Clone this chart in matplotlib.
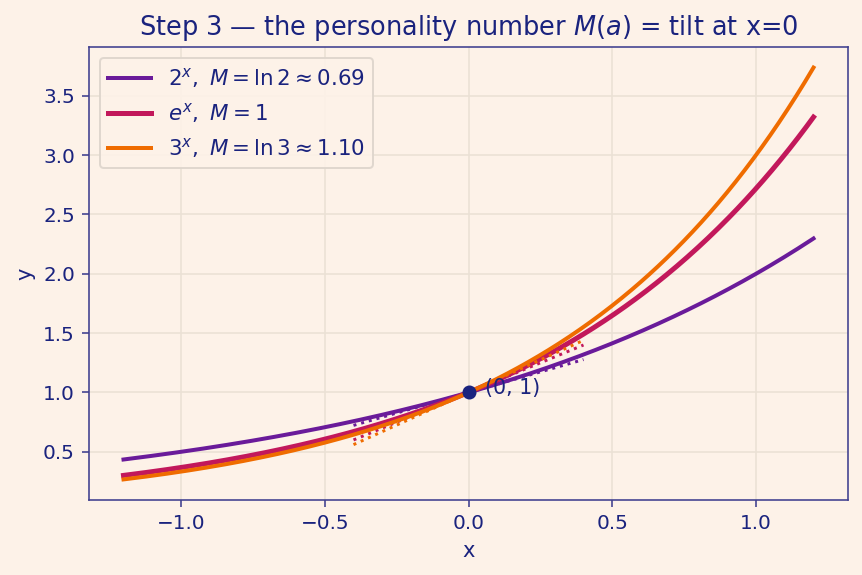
import numpy as np
import matplotlib
matplotlib.use("Agg")
import matplotlib.pyplot as plt

# bases and their tilt at x=0 (M = ln a)
bases = [2.0, np.e, 3.0]
labels = [r"$2^x,\ M=\ln 2\approx 0.69$",
          r"$e^x,\ M=1$",
          r"$3^x,\ M=\ln 3\approx 1.10$"]
colors = ["#6a1b9a", "#c2185b", "#ef6c00"]
widths = [2.0, 2.5, 2.0]

x_range = (-1.2, 1.2)
tangent_range = (-0.4, 0.4)
point = (0, 1)

ink = "#1a237e"
bg = "#fdf2e8"

plt.rcParams["font.family"] = "DejaVu Sans"
plt.rcParams["mathtext.fontset"] = "dejavusans"

fig = plt.figure(figsize=(862/144, 575/144), dpi=144, facecolor=bg)
ax = fig.add_axes([89/862, 1-500/575, (848-89)/862, (500-47)/575])
ax.set_facecolor(bg)

x = np.linspace(x_range[0], x_range[1], 400)
xt = np.linspace(tangent_range[0], tangent_range[1], 50)
for a, lab, c, lw in zip(bases, labels, colors, widths):
    ax.plot(x, a**x, color=c, lw=lw, label=lab)
    M = np.log(a)
    ax.plot(xt, 1 + M*xt, color=c, lw=1.5, ls=":")

ax.plot(*point, "o", color=ink, ms=6, zorder=5)
ax.annotate("(0, 1)", point, xytext=(8, 2), textcoords="offset points",
            color=ink, fontsize=10.3, va="center")

ax.grid(True, color="#ebe1d5", lw=0.8)
ax.set_axisbelow(True)
for s in ax.spines.values():
    s.set_color("#3f3f8f")
ax.tick_params(colors="#3f3f8f", labelsize=10, labelcolor=ink)
ax.set_xlabel("x", color=ink, fontsize=10.5)
ax.set_ylabel("y", color=ink, fontsize=10.5)
ax.set_title(r"Step 3 — the personality number $M(a)$ = tilt at x=0",
             color=ink, fontsize=12.8)

leg = ax.legend(loc="upper left", fontsize=10.7, facecolor=bg, edgecolor="#ddd5cc",
                framealpha=0.9)
for t in leg.get_texts():
    t.set_color(ink)

fig.savefig("out.png", dpi=144, facecolor=bg)
